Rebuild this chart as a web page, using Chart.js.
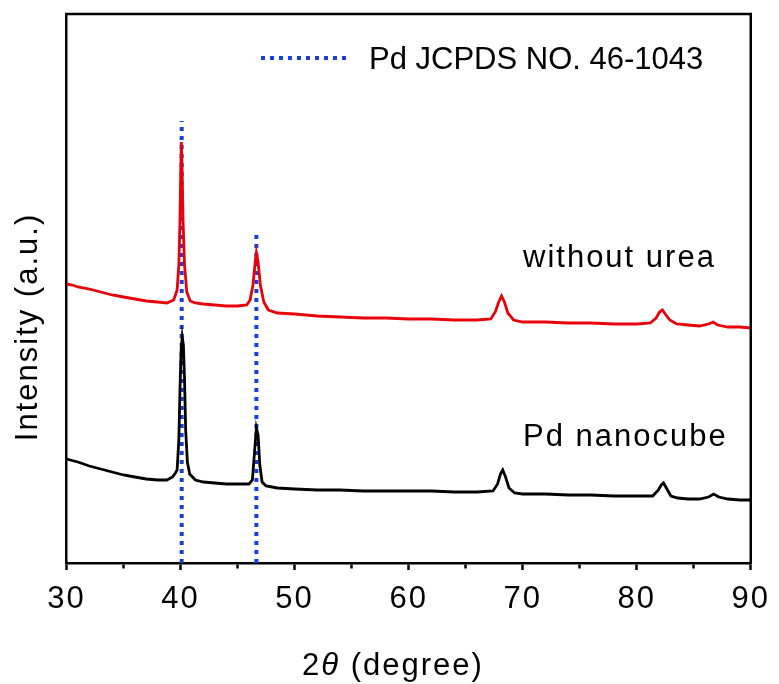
<!DOCTYPE html>
<html><head><meta charset="utf-8">
<script src="https://cdn.jsdelivr.net/npm/chart.js@4.4.1/dist/chart.umd.min.js"></script>
<style>html,body{margin:0;padding:0;background:#fff}</style>
</head><body>
<canvas id="c" width="779" height="684"></canvas>
<script>
// ---- data (2θ in degrees, intensity in arbitrary units) ----
const redX = [30,30.5,31,32,33,34,35,36,37,38,38.8,39.4,39.7,39.85,39.95,40.02,40.07,40.13,40.22,40.35,40.55,40.85,41.3,42,43,44,45,45.8,46.1,46.35,46.55,46.65,46.8,47.0,47.3,47.7,48.5,50,52,54,56,58,60,62,64,66,67.2,67.6,67.9,68.15,68.4,68.7,69.2,70,72,74,76,78,80,81.2,81.7,82.0,82.25,82.5,82.9,83.5,84.5,85.5,86.3,86.7,87.1,88,89,90];
const redY = [278,277,275,273,270,267,265,263,261,260,259,262,272,297,342,392,420,397,342,297,270,261,259,258,257,256,256,257,262,277,300,309,300,277,260,252,249,248,246,245,244,244,243,243,242,242,243,250,260,266,260,249,242,240,240,239,239,238,238,239,244,250,252,248,242,238,237,236,238,240,237,235,235,234];
const blackX = [30,31,32,33,34,35,36,37,38,38.8,39.3,39.55,39.7,39.85,39.95,40.05,40.15,40.25,40.35,40.45,40.6,40.8,41.3,42,43,44,45,46.0,46.3,46.5,46.65,46.8,46.95,47.15,47.5,48.5,50,52,54,56,58,60,62,64,66,67.4,67.8,68.05,68.25,68.5,68.8,69.3,70,72,74,76,78,80,81.4,81.9,82.15,82.35,82.6,83.0,83.6,84.5,85.5,86.3,86.75,87.2,88,89,90];
const blackY = [103,100,96,93,90,87,85,83,82,82,85,89,92,122,172,212,225,217,182,132,100,88,82,80,79,78,78,78,82,112,134,127,97,80,76,74,73,72,72,71,71,71,71,70,70,71,78,88,92,85,74,69,68,68,67,67,66,66,66,72,77,79,74,66,64,63,63,65,68,65,63,62,62];
const refPositions = [40.1, 46.65];
const refHeights = [441, 331];
const xTickValues = [30, 40, 50, 60, 70, 80, 90];
const seriesLabels = ['without urea', 'Pd nanocube'];
const refLabel = 'Pd JCPDS NO. 46-1043';

const toPts = (xs, ys) => xs.map((x, i) => ({x: x, y: ys[i]}));
const refPts = [];
refPositions.forEach((p, i) => {
  if (i > 0) refPts.push({x: (p + refPositions[i-1]) / 2, y: null});
  refPts.push({x: p, y: -1}, {x: p, y: refHeights[i]});
});

const FONT = '"Liberation Sans", Arial, sans-serif';
const BLUE = '#1a3fd6';
Chart.defaults.font.family = FONT;
Chart.defaults.color = '#000';

const decor = {
  id: 'decor',
  beforeDraw(chart) { chart.ctx.letterSpacing = '2px'; },
  afterDraw(chart) {
    const {ctx, chartArea: a} = chart;
    ctx.save();
    // frame top & right
    ctx.strokeStyle = '#000'; ctx.lineWidth = 2.5; ctx.setLineDash([]);
    ctx.beginPath(); ctx.moveTo(a.left - 1.25, a.top); ctx.lineTo(a.right, a.top); ctx.lineTo(a.right, a.bottom + 1.25); ctx.stroke();
    ctx.fillStyle = '#000';
    ctx.letterSpacing = '2px';
    ctx.font = '31px ' + FONT;
    ctx.textAlign = 'left'; ctx.textBaseline = 'alphabetic';
    ctx.fillText(seriesLabels[0], 523, 267);
    ctx.fillText(seriesLabels[1], 523, 446);
    // x title: 2θ (degree)
    let x = 302; const yb = 675;
    ctx.font = '31px ' + FONT; ctx.fillText('2', x, yb); x += ctx.measureText('2').width;
    ctx.font = 'italic 31px ' + FONT; ctx.fillText('\u03b8', x, yb); x += ctx.measureText('\u03b8').width;
    ctx.font = '31px ' + FONT; ctx.fillText(' (degree)', x, yb);
    // y title
    ctx.save();
    ctx.translate(37, 327); ctx.rotate(-Math.PI / 2);
    ctx.textAlign = 'center';
    ctx.fillText('Intensity (a.u.)', 0, 0);
    ctx.restore();
    // legend
    ctx.strokeStyle = BLUE; ctx.lineWidth = 4; ctx.setLineDash([4, 5]);
    ctx.beginPath(); ctx.moveTo(261, 58); ctx.lineTo(350, 58); ctx.stroke();
    ctx.letterSpacing = '0px';
    ctx.font = '31px ' + FONT;
    ctx.fillText(refLabel, 369, 68.5);
    ctx.restore();
  }
};

new Chart(document.getElementById('c'), {
  type: 'scatter',
  data: { datasets: [
    {label: seriesLabels[0], data: toPts(redX, redY), showLine: true, borderColor: '#e8000b', borderWidth: 2.8, pointRadius: 0, tension: 0},
    {label: seriesLabels[1], data: toPts(blackX, blackY), showLine: true, borderColor: '#000', borderWidth: 2.8, pointRadius: 0, tension: 0},
    {label: refLabel, data: refPts, showLine: true, spanGaps: false, borderColor: BLUE, borderWidth: 4, borderDash: [4, 5], pointRadius: 0}
  ]},
  options: {
    responsive: false, animation: false, devicePixelRatio: 1,
    layout: {padding: {left: 0, top: 14, right: 27, bottom: 0}},
    plugins: {legend: {display: false}, tooltip: {enabled: false}},
    scales: {
      x: {
        type: 'linear', position: 'bottom', min: 30, max: 90,
        afterFit: s => { s.height = 121; },
        ticks: {
          stepSize: 5, autoSkip: false, maxRotation: 0, padding: 11,
          font: {size: 31}, color: '#000',
          callback: v => xTickValues.includes(v) ? String(v) : ''
        },
        grid: {
          display: true, drawOnChartArea: false, drawTicks: true, tickLength: 7,
          tickWidth: 2.5, tickColor: '#000',
          tickBorderDash: c => (c.tick && !xTickValues.includes(c.tick.value)) ? [4, 40] : []
        },
        border: {display: true, color: '#000', width: 2.5}
      },
      y: {
        type: 'linear', position: 'left', min: -1, max: 548,
        afterFit: s => { s.width = 66.5; },
        ticks: {display: false},
        grid: {display: false},
        border: {display: true, color: '#000', width: 2.5}
      }
    }
  },
  plugins: [decor]
});
</script>
</body></html>
